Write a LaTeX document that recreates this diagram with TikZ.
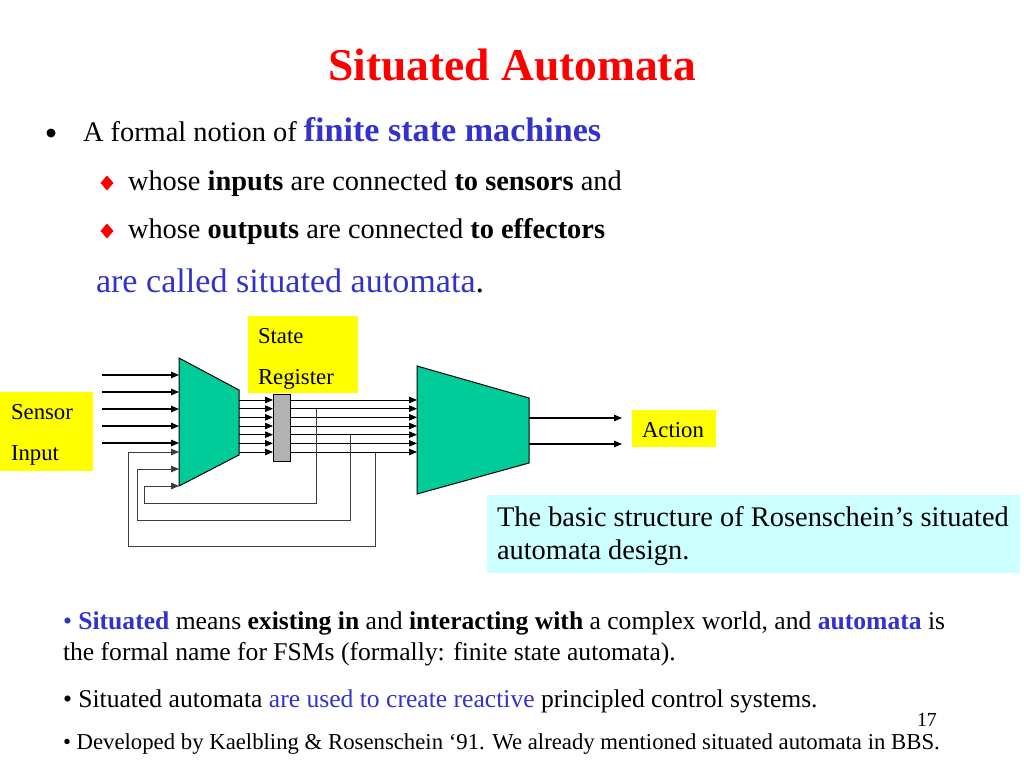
\documentclass[tikz,border=0pt]{standalone}
\usepackage{fontspec}
\setmainfont{Liberation Serif}
\usetikzlibrary{arrows.meta}
\definecolor{titlered}{RGB}{255,0,0}
\definecolor{txtblue}{RGB}{51,51,204}
\definecolor{fsmgreen}{RGB}{0,204,153}
\definecolor{lblyellow}{RGB}{255,255,0}
\definecolor{capcyan}{RGB}{204,255,255}
\definecolor{reggray}{RGB}{178,178,178}
\definecolor{fbgray}{RGB}{60,60,60}
\newcommand{\fsz}[1]{\fontsize{#1pt}{#1pt}\selectfont}
\begin{document}
\begin{tikzpicture}[x=1pt,y=-1pt,
  txt/.style={anchor=base west,inner sep=0pt,outer sep=0pt},
  lbl/.style={anchor=base west,inner sep=0pt,outer sep=0pt,font=\fsz{22.75}},
  tip/.style={-{Triangle[length=8pt,width=6.5pt]}},
  wire/.style={line width=1.2pt,black,tip},
  fbwire/.style={line width=1pt,draw=fbgray,tip},
  fsm/.style={draw=black,line width=1pt,fill=fsmgreen},
  diamondbullet/.style={fill=red}]
\fill[white] (0,0) rectangle (1024,768);
\useasboundingbox (0,0) rectangle (1024,768);

% ---------- title and bullets ----------
\node[anchor=base,inner sep=0pt] (title) at (512,80)
  {\fsz{45.5}\bfseries\color{titlered}Situated Automata};
\fill (51,133) circle (4.5);
\node[txt] (l1) at (83,141)
  {\fsz{28.4}A formal notion of {\fsz{34.1}\bfseries\color{txtblue}finite state machines}};
\fill[diamondbullet] (107,175.5) -- (113.5,183) -- (107,190.5) -- (100.5,183) -- cycle;
\node[txt] (l2) at (128,190)
  {\fsz{28.4}whose \textbf{inputs} are connected \textbf{to sensors} and};
\fill[diamondbullet] (107,223.5) -- (113.5,231) -- (107,238.5) -- (100.5,231) -- cycle;
\node[txt] (l3) at (128,238)
  {\fsz{28.4}whose \textbf{outputs} are connected \textbf{to effectors}};
\node[txt] (l4) at (96,292)
  {\fsz{34.1}\color{txtblue}are called situated automata\color{black}.};

% ---------- diagram ----------
% label boxes
\fill[lblyellow] (0,392) rectangle (93,471);
\node[lbl] (sensor) at (11,419) {Sensor};
\node[lbl] (input) at (11,460) {Input};
\fill[lblyellow] (632,410) rectangle (716,447);
\node[lbl] (action) at (642,437) {Action};

% trapezoids
\draw[fsm] (179,358) coordinate (t1a) -- (239,390) -- (239,455) -- (179,486) coordinate (t1d) -- cycle;
\draw[fsm] (417,366) coordinate (t2a) -- (529,398) -- (529,463) -- (417,494) coordinate (t2d) -- cycle;

% register
\draw[fill=reggray,line width=1pt] (273,394) rectangle (290,461);
\node[name=reg,inner sep=0pt,minimum width=17pt,minimum height=67pt] at (281.5,427.5) {};
\fill[lblyellow] (248,316) rectangle (358,393);
\node[lbl] (state) at (258,343) {State};
\node[lbl] (register) at (258,384) {Register};

% sensor inputs
\foreach \y [count=\i] in {375,392,409,426,443} {
  \coordinate (sin\i) at (102,\y);
  \coordinate (tin\i) at (179,\y);
  \draw[wire] (sin\i) -- (tin\i);
}

% trapezoid 1 -> register -> trapezoid 2
\foreach \i in {1,...,7} {
  \pgfmathsetmacro\yy{400+(\i-1)*8.6667}
  \coordinate (ao\i) at (239,\yy);
  \coordinate (ri\i) at (273,\yy);
  \coordinate (ro\i) at (290,\yy);
  \coordinate (bi\i) at (417,\yy);
  \draw[wire,line width=1pt] (ao\i) -- (ri\i);
  \draw[wire,line width=1pt] (ro\i) -- (bi\i);
}

% outputs
\coordinate (out1) at (529,418);
\coordinate (out2) at (529,444);
\draw[wire] (out1) -- (622,418) coordinate (act1);
\draw[wire] (out2) -- (622,444) coordinate (act2);

% feedback loops
\coordinate (tapA) at (316,408.67);
\coordinate (tapB) at (350,434.67);
\coordinate (tapC) at (375,452);
\coordinate (fbA) at (179,486);
\coordinate (fbB) at (179,469);
\coordinate (fbC) at (179,452);
\draw[fbwire] (tapA) |- (144,503) |- (fbA);
\draw[fbwire] (tapB) |- (137,520) |- (fbB);
\draw[fbwire] (tapC) |- (128,546) |- (fbC);

% caption box
\fill[capcyan] (487,495) rectangle (1020,573);
\node[txt] (cap1) at (497,526) {\fsz{28.4}The basic structure of Rosenschein’s situated};
\node[txt] (cap2) at (497,559) {\fsz{28.4}automata design.};

% ---------- bottom notes ----------
\node[txt] (n1) at (63,629)
  {\fsz{25.6}{\color{txtblue}• \textbf{Situated}} means \textbf{existing in} and \textbf{interacting with} a complex world, and {\color{txtblue}\textbf{automata}} is};
\node[txt] (n2) at (63,660)
  {\fsz{25.6}the formal name for FSMs (formally: finite state automata).};
\node[txt] (n3) at (63,707)
  {\fsz{25.6}• Situated automata {\color{txtblue}are used to create reactive} principled control systems.};
\node[txt] (n4) at (63,749)
  {\fsz{22.75}• Developed by Kaelbling \& Rosenschein ‘91. We already mentioned situated automata in BBS.};
\node[txt] (pg) at (917,726) {\fsz{19.9}17};
\end{tikzpicture}
\end{document}
